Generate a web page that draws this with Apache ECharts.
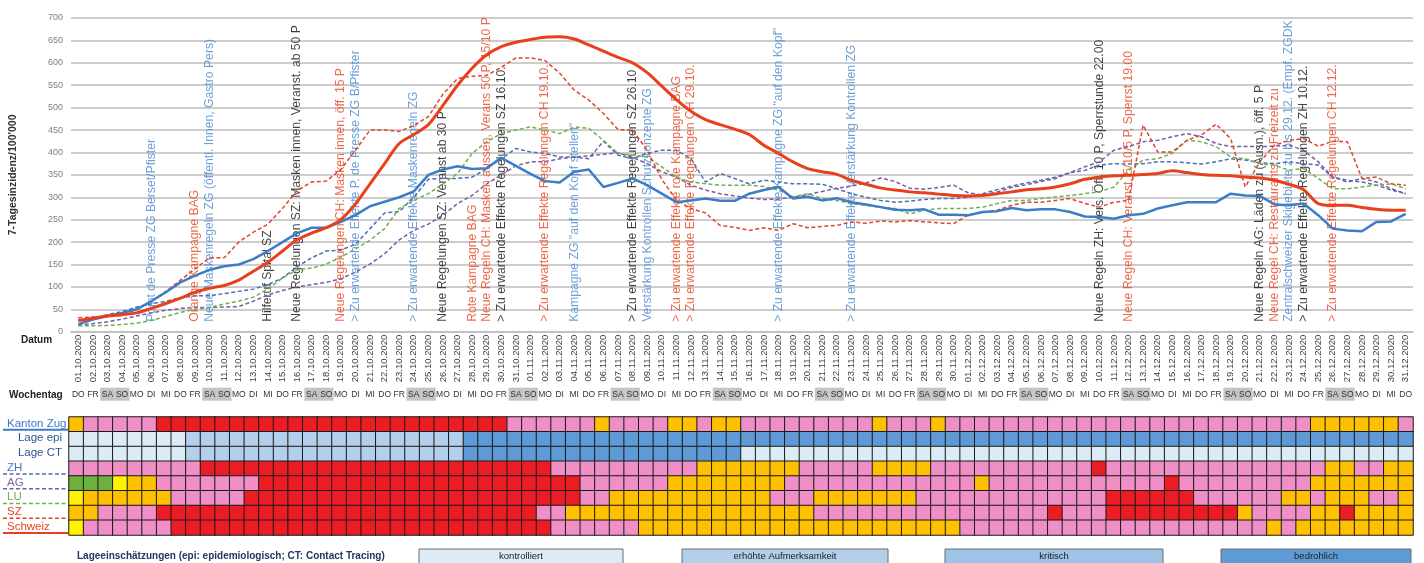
<!DOCTYPE html>
<html><head><meta charset="utf-8">
<script src="https://cdn.jsdelivr.net/npm/echarts@6/dist/echarts.min.js"></script>
<style>html,body{margin:0;padding:0;background:#fff}#c{width:1424px;height:563px}</style>
</head><body><div id="c"></div>
<script>
// ---------- categories ----------
const dates = [];
(function(){const d0=Date.UTC(2020,9,1);for(let i=0;i<92;i++){const d=new Date(d0+i*86400000);dates.push(String(d.getUTCDate()).padStart(2,'0')+'.'+String(d.getUTCMonth()+1).padStart(2,'0')+'.'+d.getUTCFullYear());}})();
const weekdayCycle = ['DO','FR','SA','SO','MO','DI','MI'];
const weekdays = dates.map((_,i)=>weekdayCycle[i%7]);
const yTicks = {min:0,max:700,interval:50};

// ---------- 7-day incidence series ----------
const kantonZug = [17,27,35,42,50,68,88,110,125,138,146,150,162,180,200,220,232,232,245,260,280,290,300,313,350,362,369,363,365,388,370,352,336,333,357,362,323,332,342,327,308,289,293,297,292,292,308,316,323,297,301,293,298,289,284,278,272,271,273,261,261,260,267,269,276,271,273,273,267,257,256,252,260,263,275,282,289,289,289,308,304,303,284,282,286,260,230,226,224,245,246,263];
const schweiz = [25,30,35,38,42,52,63,75,88,97,103,115,135,155,180,205,220,232,250,285,330,375,420,440,462,505,550,588,618,636,646,652,657,658,653,640,626,612,600,578,548,518,492,473,462,452,440,416,398,379,364,357,351,338,329,321,316,312,310,307,304,303,304,308,312,317,319,323,330,340,345,348,349,351,353,359,355,351,349,348,345,343,338,329,317,286,282,282,277,273,271,271];
const zh = [25,30,38,45,55,62,68,76,80,80,85,90,95,105,120,145,165,180,182,195,230,265,268,300,340,342,342,345,364,386,409,401,398,390,390,386,425,394,386,398,405,405,386,334,353,342,330,338,334,330,330,329,319,308,300,293,289,291,295,297,297,300,308,317,325,332,338,345,355,360,372,375,374,375,379,379,377,374,379,386,383,377,375,379,375,372,345,334,342,334,319,308];
const ag = [15,18,22,28,35,42,48,52,54,54,55,56,68,82,92,100,105,110,118,133,151,174,205,226,240,260,286,304,330,350,370,379,379,386,390,392,396,399,389,375,357,345,327,316,308,303,298,295,296,300,306,313,320,325,332,343,335,320,318,322,327,310,305,312,322,328,335,342,355,368,379,405,413,424,427,435,442,435,420,413,413,413,414,416,405,379,345,338,334,327,316,308];
const lu = [13,13,14,16,19,25,34,43,50,54,62,68,77,95,120,138,142,151,166,185,204,230,275,293,308,330,353,398,424,442,450,457,450,442,457,454,427,398,394,390,368,345,334,330,327,327,327,324,316,301,308,297,293,286,282,278,275,263,271,275,275,275,278,286,293,293,297,301,304,308,312,323,360,383,386,398,427,424,413,390,386,375,372,360,364,342,319,319,323,327,330,319];
const sz = [31,33,34,36,50,68,90,115,140,165,165,200,222,240,275,315,334,336,362,405,450,450,447,460,480,530,565,570,572,590,611,611,605,577,539,517,487,451,450,405,340,294,275,265,237,233,226,232,226,241,232,235,237,245,242,247,245,248,245,243,241,260,267,271,282,289,289,293,297,286,278,289,293,461,401,401,427,439,463,431,323,379,416,427,431,414,425,424,342,345,330,327];

// ---------- annotations: [dateIndex, colourKey, text] ----------
const annotations = [
 [5,'b','Point de Presse ZG Berset/Pfister'],
 [8,'r','Orange Kampagne BAG'],
 [9,'b','Neue Maskenregeln ZG (öffentl. Innen, Gastro Pers)'],
 [13,'k','Hilferuf Spital SZ'],
 [15,'k','Neue Regelungen SZ: Masken innen, Veranst. ab 50 P'],
 [18,'r','Neue Regelungen CH: Masken innen, öff. 15 P'],
 [19,'b','> Zu erwartende Effekte P. de Presse ZG B/Pfister'],
 [23,'b','> Zu erwartende Effekte Maskenregeln ZG'],
 [25,'k','Neue Regelungen SZ: Veranst ab 30 P'],
 [27,'r','Rote Kampagne BAG'],
 [28,'r','Neue Regeln CH: Masken aussen, Verans 50 P, 15/10 P'],
 [29,'k','> Zu erwartende Effekte Regelungen SZ 16.10.'],
 [32,'r','> Zu erwartende Effekte Regelungen CH 19.10.'],
 [34,'b','Kampagne ZG "auf den Kopf stellen"'],
 [38,'k','> Zu erwartende Effekte Regelungen SZ 26.10'],
 [39,'b','Verstärkung Kontrollen Schutzkonzepte ZG'],
 [41,'r','> Zu erwartende Effekte rote Kampagne BAG'],
 [42,'r','> Zu erwartende Effekte Regelungen CH 29.10.'],
 [48,'b','> Zu erwartende Effekte Kampagne ZG "auf den Kopf"'],
 [53,'b','> Zu erwartende Effekte Verstärkung Kontrollen ZG'],
 [70,'k','Neue Regeln ZH: Vers. Öff. 10 P, Sperrstunde 22.00'],
 [72,'r','Neue Regeln CH: Veranst. 5/10/5 P, Sperrst 19.00'],
 [81,'k','Neue Regeln AG: Läden zu (Ausn.), öff. 5 P'],
 [82,'r','Neue Regel CH: Restaurants zu Freizeit zu'],
 [83,'b','Zentralschweizer Skigebiete zu bis 29.12. (Empf. ZGDK'],
 [84,'k','> Zu erwartende Effekte Regelungen ZH 10.12.'],
 [86,'r','> Zu erwartende Effekte Regelungen CH 12.12.']
];
const annotBase = 22;

// ---------- status grid (run-length: code+count) ----------
const rowNames = ['Kanton Zug','Lage epi','Lage CT','ZH','AG','LU','SZ','Schweiz'];
const statusKantonZug = 'O1 P5 R24 P6 O1 P4 O2 P1 O2 P9 O1 P3 O1 P25 O6 P1';
const statusLageEpi   = 'K8 E19 B65';
const statusLageCT    = 'K8 E19 B19 K46';
const statusZH        = 'P9 R24 P10 O7 P5 O4 P11 R1 P15 O2 P2 O2';
const statusAG        = 'G3 Y1 O2 P7 R22 P6 O8 P13 O1 P12 R1 P9 O7';
const statusLU        = 'Y1 O6 P5 R23 P2 O11 P3 O7 P13 R6 P6 O2 P1 O3 P2 O1';
const statusSZ        = 'O2 P4 R26 P2 O17 P16 R1 P3 R9 O1 P4 O2 R1 O4';
const statusSchweiz   = 'Y1 P6 R26 P6 O22 P21 O1 P1 O8';
const statusRows = [statusKantonZug,statusLageEpi,statusLageCT,statusZH,statusAG,statusLU,statusSZ,statusSchweiz];
const legendLevels = ['kontrolliert','erhöhte Aufmerksamkeit','kritisch','bedrohlich'];

// ---------- styles ----------
const codeOrder = ['O','P','R','G','Y','K','E','C','B'];
const codeColor = {O:'#FFC000',P:'#F08EC6',R:'#EC1C24',G:'#6DB040',Y:'#FFF200',K:'#DDEBF7',E:'#B4CFEB',C:'#9DC3E6',B:'#5E9BD6'};
const annColor = {b:'#4A8AD0',r:'#E8431E',k:'#111111'};
const FONT = 'Liberation Sans';

function expand(s){const out=[];s.split(' ').forEach(t=>{const c=t[0],n=+t.slice(1);for(let i=0;i<n;i++)out.push(c);});return out;}
const heatData=[];
statusRows.forEach((s,r)=>{expand(s).forEach((c,j)=>heatData.push([j,r,codeOrder.indexOf(c)]));});

const G = {left:69,top:18,w:1344,h:313.7};
const H = {top:417,h:118};
const rowH = H.h/8;

function lineSeries(name,data,color,width,dashed,smooth){
  return {name,type:'line',xAxisIndex:0,yAxisIndex:0,data,symbol:'none',smooth:smooth||false,z:3,
    lineStyle:{color,width,type:dashed?[4,2.5]:'solid'},itemStyle:{color}};
}

const graphics = [];
const rowLabelStyle = [
  {t:'Kanton Zug',c:'#3D7BC4',left:true,line:'#3D7DC8',dash:false},
  {t:'Lage epi',c:'#2F5597',left:false},
  {t:'Lage CT',c:'#2F5597',left:false},
  {t:'ZH',c:'#4472C4',left:true,line:'#4A6FB5',dash:true},
  {t:'AG',c:'#8064A2',left:true,line:'#7A5BA8',dash:true},
  {t:'LU',c:'#70AD47',left:true,line:'#6CB24F',dash:true},
  {t:'SZ',c:'#E8431E',left:true,line:'#E0452A',dash:true},
  {t:'Schweiz',c:'#E8431E',left:true,line:'#E8401C',dash:false}
];
rowLabelStyle.forEach((s,r)=>{
  const cy = H.top + rowH*(r+0.5) - 1;
  graphics.push({type:'text',style:{text:s.t,x:s.left?7:62,y:cy,textAlign:s.left?'left':'right',textVerticalAlign:'middle',fill:s.c,font:'11.5px '+FONT}});
  if(s.line){const ly=H.top+rowH*(r+1)-2;
    graphics.push({type:'line',shape:{x1:3,y1:ly,x2:68,y2:ly},style:{stroke:s.line,lineWidth:s.dash?1.5:2,lineDash:s.dash?[4,2.5]:null}});}
});
graphics.push({type:'text',style:{text:'Datum',x:21,y:340,textVerticalAlign:'middle',fill:'#222',font:'bold 10px '+FONT}});
graphics.push({type:'text',style:{text:'Wochentag',x:9,y:395,textVerticalAlign:'middle',fill:'#222',font:'bold 10px '+FONT}});
graphics.push({type:'text',style:{text:'Lageeinschätzungen (epi: epidemiologisch; CT: Contact Tracing)',x:77,y:556,textVerticalAlign:'middle',fill:'#1F3864',font:'bold 10px '+FONT}});
const boxes=[[419,204,'K'],[682,206,'E'],[945,218,'C'],[1221,190,'B']];
boxes.forEach((b,i)=>{
  graphics.push({type:'rect',shape:{x:b[0],y:549,width:b[1],height:18},style:{fill:codeColor[b[2]],stroke:'#6f6f6f',lineWidth:1}});
  graphics.push({type:'text',style:{text:legendLevels[i],x:b[0]+b[1]/2,y:556,textAlign:'center',textVerticalAlign:'middle',fill:'#222',font:'9.5px '+FONT}});
});

const option = {
  animation:false,
  backgroundColor:'#fff',
  textStyle:{fontFamily:FONT},
  grid:[
    {left:G.left,top:G.top,width:G.w,height:G.h,containLabel:false},
    {left:G.left,top:H.top,width:G.w,height:H.h,containLabel:false}
  ],
  xAxis:[
    {gridIndex:0,type:'category',data:dates,boundaryGap:true,
     axisLine:{show:true,lineStyle:{color:'#BFBFBF',width:1.5}},axisTick:{show:false},
     axisLabel:{interval:0,rotate:90,fontSize:9.5,color:'#404040',margin:3,fontFamily:FONT}},
    {gridIndex:0,type:'category',data:weekdays,position:'bottom',offset:56,
     axisLine:{show:false},axisTick:{show:false},
     axisLabel:{interval:0,margin:0,fontFamily:FONT,
       formatter:v=>(v==='SA'||v==='SO')?'{we|'+v+'}':'{wd|'+v+'}',
       rich:{we:{backgroundColor:'#C4C4C4',width:14.6,height:13,lineHeight:13,align:'center',fontSize:8.5,color:'#333'},
             wd:{width:14.6,height:13,lineHeight:13,align:'center',fontSize:8.5,color:'#333'}}}},
    {gridIndex:1,type:'category',data:dates,show:false}
  ],
  yAxis:[
    {gridIndex:0,type:'value',min:yTicks.min,max:yTicks.max,interval:yTicks.interval,
     name:"7-Tagesinzidenz/100'000",nameLocation:'middle',nameRotate:90,nameGap:52,
     nameTextStyle:{fontSize:10.5,color:'#333',fontWeight:'bold',fontFamily:FONT},
     axisLine:{show:false},axisTick:{show:false},
     axisLabel:{fontSize:9,color:'#7F7F7F',margin:8,fontFamily:FONT},
     splitLine:{lineStyle:{color:'#BDBDBD',width:1.5}}},
    {gridIndex:1,type:'category',data:rowNames,inverse:true,show:false}
  ],
  visualMap:{type:'piecewise',show:false,seriesIndex:7,dimension:2,
    pieces:codeOrder.map((c,i)=>({value:i,color:codeColor[c]}))},
  graphic:graphics,
  series:[
    lineSeries('ZH',zh,'#4A6FB5',1.5,true),
    lineSeries('AG',ag,'#7A5BA8',1.5,true),
    lineSeries('LU',lu,'#6CB24F',1.5,true),
    lineSeries('SZ',sz,'#E0452A',1.5,true),
    lineSeries('Kanton Zug',kantonZug,'#3D7DC8',2.5,false),
    lineSeries('Schweiz',schweiz,'#E8401C',3,false,0.3),
    {type:'scatter',xAxisIndex:0,yAxisIndex:0,symbolSize:0,z:2,silent:true,
     data:annotations.map(a=>({value:[a[0],annotBase],name:a[2],label:{color:annColor[a[1]]}})),
     label:{show:true,position:'inside',rotate:90,align:'left',verticalAlign:'middle',
       fontSize:12.2,fontFamily:FONT,formatter:p=>p.name}},
    {type:'heatmap',xAxisIndex:2,yAxisIndex:1,data:heatData,
     itemStyle:{borderColor:'#1a1a1a',borderWidth:1},emphasis:{disabled:true}}
  ]
};
echarts.init(document.getElementById('c'),null,{renderer:'canvas'}).setOption(option);
</script></body></html>
